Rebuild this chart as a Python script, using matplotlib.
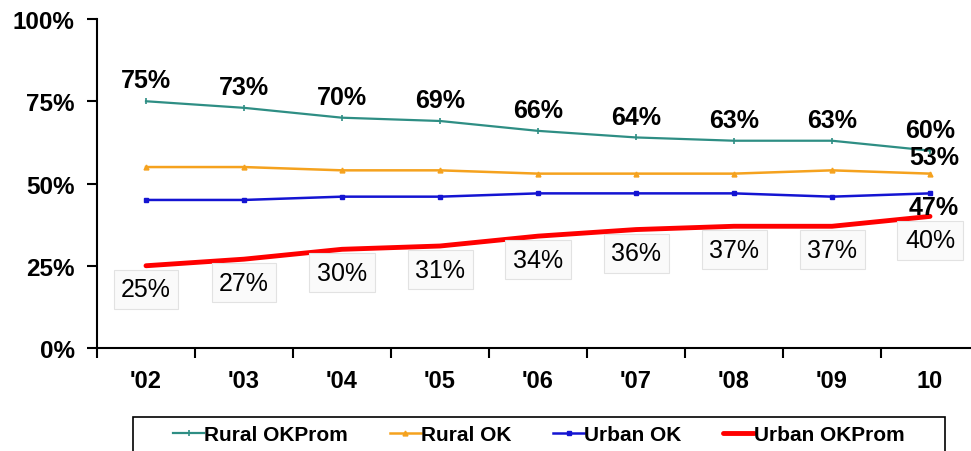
import matplotlib
matplotlib.use('Agg')
from matplotlib import pyplot as plt
from matplotlib.patches import Rectangle
from matplotlib.ticker import FixedLocator, NullFormatter, FixedFormatter

plt.rcParams['font.family'] = ['Liberation Sans', 'DejaVu Sans']

years = ["'02", "'03", "'04", "'05", "'06", "'07", "'08", "'09", "10"]
rural_okprom = [75, 73, 70, 69, 66, 64, 63, 63, 60]
rural_ok = [55, 55, 54, 54, 53, 53, 53, 54, 53]
urban_ok = [45, 45, 46, 46, 47, 47, 47, 46, 47]
urban_okprom = [25, 27, 30, 31, 34, 36, 37, 37, 40]

c_teal = '#2E8E84'
c_orange = '#F5A21E'
c_blue = '#1414D2'
c_red = '#FF0000'

W, H = 971, 452
fig = plt.figure(figsize=(W / 100, H / 100), dpi=100)
ax = fig.add_axes([97 / W, 1 - 349 / H, 882 / W, 329 / H])

x = list(range(len(years)))
l1, = ax.plot(x, rural_okprom, color=c_teal, lw=1.6, marker='|', ms=5, mew=1.2)
l2, = ax.plot(x, rural_ok, color=c_orange, lw=1.8, marker='^', ms=3.5)
l3, = ax.plot(x, urban_ok, color=c_blue, lw=1.8, marker='s', ms=3)
l4, = ax.plot(x, urban_okprom, color=c_red, lw=3.5, solid_capstyle='round')

ax.set_xlim(-0.5, 8.5)
ax.set_ylim(0, 100)

# labels for the top and bottom series
for i, v in enumerate(rural_okprom):
    ax.annotate(f'{v}%', (i, v), xytext=(0, 15), textcoords='offset points',
                ha='center', va='center', fontsize=18, fontweight='bold')
for i, v in enumerate(urban_okprom):
    ax.annotate(f'{v}%', (i, v), xytext=(0, -17), textcoords='offset points',
                ha='center', va='center', fontsize=18,
                bbox=dict(boxstyle='square,pad=0.3', fc='#FAFAFA', ec='#E2E2E2', lw=0.8))
ax.annotate(f'{rural_ok[-1]}%', (8, rural_ok[-1]), xytext=(3, 12), textcoords='offset points',
            ha='center', va='center', fontsize=18, fontweight='bold')
ax.annotate(f'{urban_ok[-1]}%', (8, urban_ok[-1]), xytext=(3, -10), textcoords='offset points',
            ha='center', va='center', fontsize=18, fontweight='bold')

ax.spines['top'].set_visible(False)
ax.spines['right'].set_visible(False)
for s in ['left', 'bottom']:
    ax.spines[s].set_linewidth(1.5)

ax.set_yticks([0, 25, 50, 75, 100])
ax.set_yticklabels(['0%', '25%', '50%', '75%', '100%'], fontsize=17.5, fontweight='bold')
ax.tick_params(axis='y', length=7, width=1.5, pad=9)

ax.xaxis.set_major_locator(FixedLocator([i - 0.5 for i in range(len(years) + 1)]))
ax.xaxis.set_major_formatter(NullFormatter())
ax.xaxis.set_minor_locator(FixedLocator(x))
ax.xaxis.set_minor_formatter(FixedFormatter(years))
ax.tick_params(axis='x', which='major', length=7, width=1.5)
ax.tick_params(axis='x', which='minor', length=0, pad=15, labelsize=17)
for t in ax.xaxis.get_minorticklabels():
    t.set_fontweight('bold')

# legend box runs off the bottom edge
fig.patches.append(Rectangle((133 / W, -0.05), 812 / W, 0.05 + 1 - 418 / H,
                             transform=fig.transFigure, fill=False, ec='black', lw=1.2))
fig.legend([l1, l2, l3, l4], ['Rural OKProm', 'Rural OK', 'Urban OK', 'Urban OKProm'],
           loc='center', bbox_to_anchor=(539 / W, 1 - 436 / H), ncol=4, frameon=False,
           handlelength=1.5, handletextpad=0.0, columnspacing=2.0, borderpad=0,
           prop={'weight': 'bold', 'size': 15})

plt.savefig('out.png', dpi=100)
